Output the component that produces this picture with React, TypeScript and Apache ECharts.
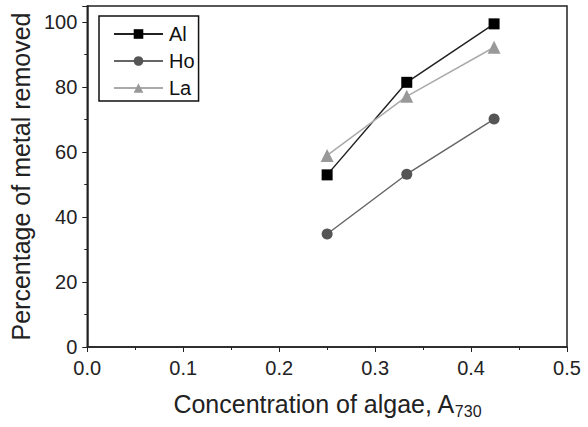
import React, { useEffect, useRef } from "react";
import * as echarts from "echarts";

const concentrations = [0.25, 0.333, 0.424];
const alValues = [53, 81.5, 99.5];
const hoValues = [34.8, 53.2, 70.2];
const laValues = [59, 77.2, 92.3];
const seriesNames = ["Al", "Ho", "La"];

const FONT = "'Liberation Sans', Arial, sans-serif";

export default function App() {
  const ref = useRef<HTMLDivElement>(null);
  useEffect(() => {
    if (!ref.current) return;
    const chart = echarts.init(ref.current, undefined, { renderer: "svg" });
    const mk = (vals: number[]) => concentrations.map((c, i) => [c, vals[i]]);
    const option: any = {
      animation: false,
      backgroundColor: "#fff",
      textStyle: { fontFamily: FONT },
      grid: {
        left: 87,
        right: 21,
        top: 6,
        bottom: 80,
        show: true,
        borderColor: "#222",
        borderWidth: 1.5,
        backgroundColor: "transparent",
      },
      legend: {
        orient: "vertical",
        left: 99,
        top: 16,
        data: seriesNames,
        borderColor: "#111",
        borderWidth: 1.5,
        padding: [8, 4, 3, 14],
        itemWidth: 49,
        itemHeight: 12,
        itemGap: 7,
        textStyle: { fontFamily: FONT, fontSize: 20, color: "#111", padding: [0, 0, 0, 1] },
        backgroundColor: "#fff",
      },
      xAxis: {
        type: "value",
        min: 0,
        max: 0.5,
        interval: 0.1,
        name: "{a|Concentration of algae, A}{s|730}",
        nameLocation: "middle",
        nameGap: 42,
        nameTextStyle: {
          rich: {
            a: { fontFamily: FONT, fontSize: 25, color: "#222" },
            s: { fontFamily: FONT, fontSize: 16, color: "#222", verticalAlign: "bottom", padding: [14, 0, 0, 0] },
          },
        },
        axisLine: { lineStyle: { color: "#222", width: 1.5 } },
        axisTick: { length: 5, lineStyle: { color: "#222" } },
        minorTick: { show: true, splitNumber: 2, length: 3, lineStyle: { color: "#222" } },
        splitLine: { show: false },
        axisLabel: {
          fontFamily: FONT,
          fontSize: 20,
          color: "#222",
          margin: 11,
          formatter: (v: number) => v.toFixed(1),
        },
      },
      yAxis: {
        type: "value",
        min: 0,
        max: 105,
        interval: 20,
        name: "Percentage of metal removed",
        nameLocation: "middle",
        nameGap: 51,
        nameTextStyle: { fontFamily: FONT, fontSize: 25, color: "#222" },
        axisLine: { show: true, lineStyle: { color: "#222", width: 1.5 } },
        axisTick: { length: 5, lineStyle: { color: "#222" } },
        minorTick: { show: true, splitNumber: 2, length: 3, lineStyle: { color: "#222" } },
        splitLine: { show: false },
        axisLabel: {
          fontFamily: FONT,
          fontSize: 20,
          color: "#222",
          margin: 10,
          showMaxLabel: false,
          formatter: (v: number) => (v % 20 === 0 ? String(v) : ""),
        },
      },
      series: [
        {
          name: "Al",
          type: "line",
          data: mk(alValues),
          symbol: "rect",
          symbolSize: 11,
          itemStyle: { color: "#000" },
          lineStyle: { color: "#222", width: 1.5 },
        },
        {
          name: "Ho",
          type: "line",
          data: mk(hoValues),
          symbol: "circle",
          symbolSize: 11,
          itemStyle: { color: "#555" },
          lineStyle: { color: "#666", width: 1.5 },
        },
        {
          name: "La",
          type: "line",
          data: mk(laValues),
          symbol: "triangle",
          symbolSize: 13,
          itemStyle: { color: "#999" },
          lineStyle: { color: "#aaa", width: 1.5 },
        },
      ],
    };
    chart.setOption(option);
    return () => chart.dispose();
  }, []);
  return <div ref={ref} style={{ width: 588, height: 427, position: "absolute", left: 0, top: 0 }} />;
}
